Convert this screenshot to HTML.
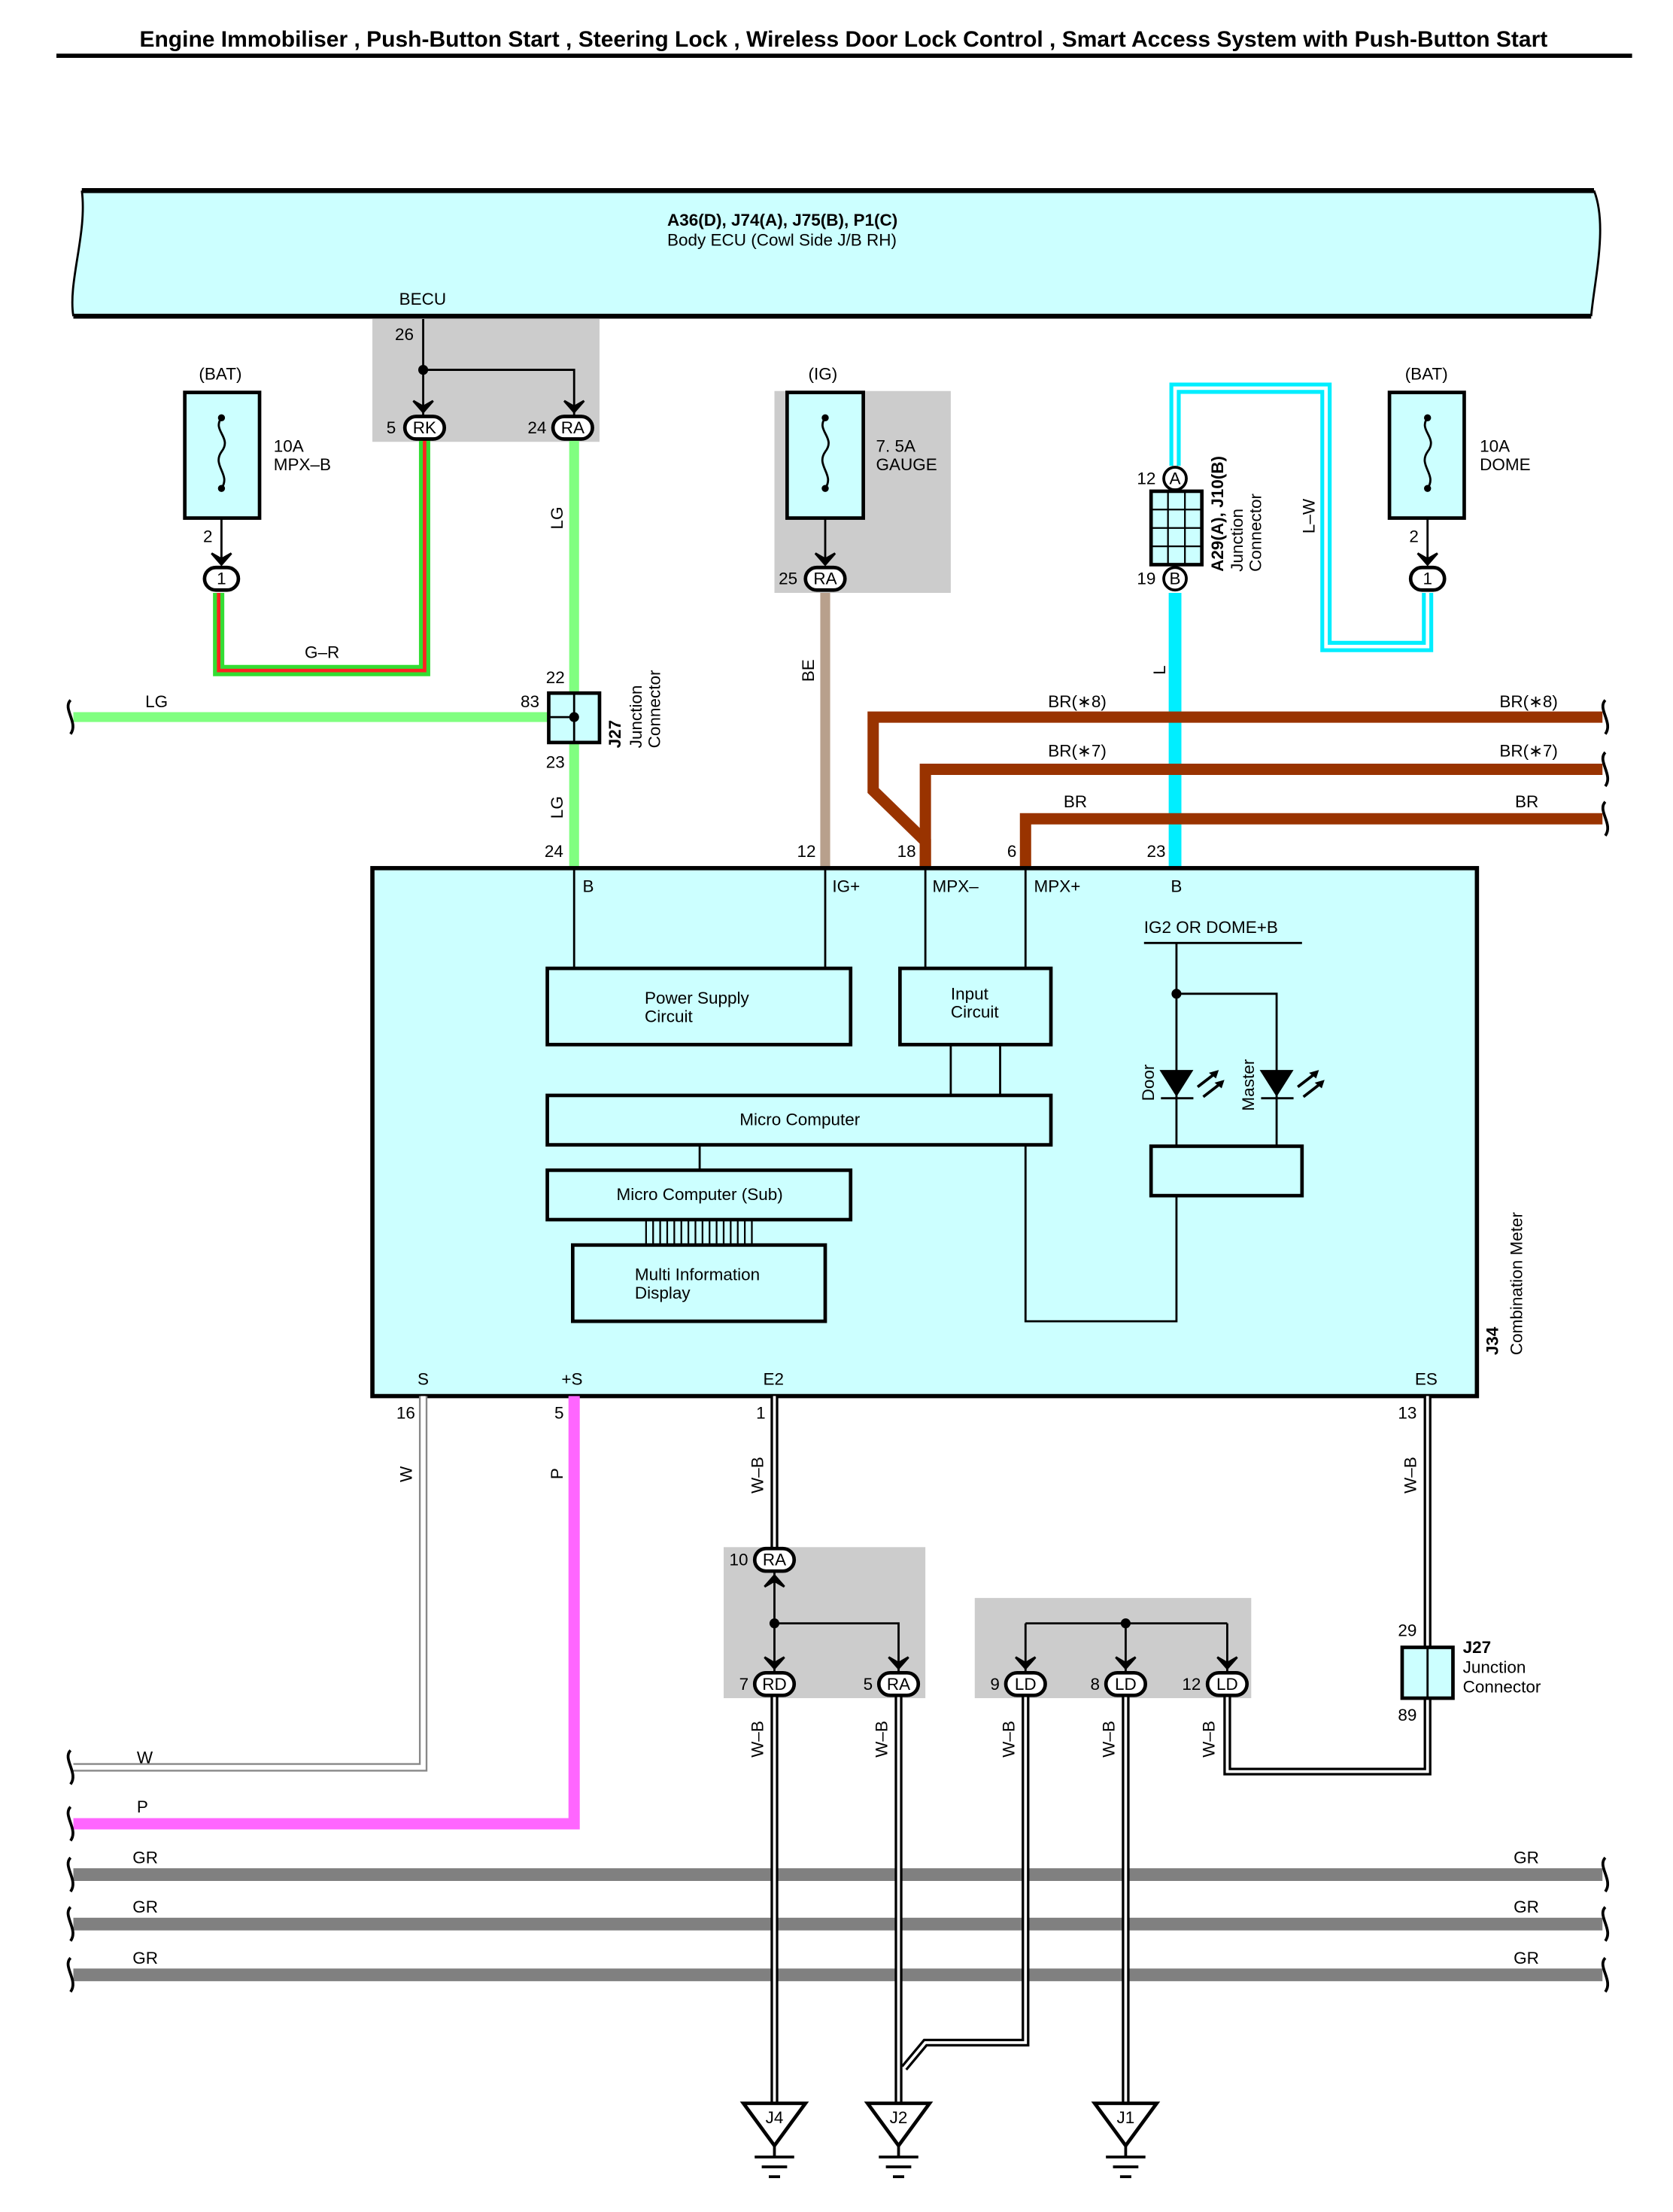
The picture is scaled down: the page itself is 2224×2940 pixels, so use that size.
<!DOCTYPE html>
<html><head><meta charset="utf-8"><style>
html,body{margin:0;padding:0;background:#fff}
svg{display:block}
text{font-family:"Liberation Sans",sans-serif;font-size:12px;fill:#000}
.b{font-weight:bold}
</style></head><body>
<svg width="2224" height="2940" viewBox="0 0 1186 1567" preserveAspectRatio="none" xmlns="http://www.w3.org/2000/svg">
<defs>
<g id="arw"><path d="M-7,-8 L0,0 L7,-8 L0,-4 Z" fill="#000" stroke="#000" stroke-width="1.5"/></g>
<g id="sq"><path d="M0,-12 C-6,-6 6,4 0,12" fill="none" stroke="#000" stroke-width="2"/></g>
</defs>
<text x="598" y="33" text-anchor="middle" class="b" style="font-size:16px">Engine Immobiliser , Push-Button Start , Steering Lock , Wireless Door Lock Control , Smart Access System with Push-Button Start</text>
<rect x="40" y="38" width="1117" height="3" fill="#000"/>

<path d="M58,135 L1130,135 C1140,160 1130,200 1128,224 L52,224 C48,200 62,165 58,135 Z" fill="#ccffff" stroke="none"/>
<line x1="58" y1="135" x2="1130" y2="135" stroke="#000" stroke-width="3.5"/>
<line x1="52" y1="224" x2="1128" y2="224" stroke="#000" stroke-width="3.5"/>
<path d="M58,135 C62,165 48,200 52,224" fill="none" stroke="#000" stroke-width="1.5"/>
<path d="M1130,135 C1140,160 1130,200 1128,224" fill="none" stroke="#000" stroke-width="1.5"/>
<text x="473" y="160" class="b">A36(D), J74(A), J75(B), P1(C)</text>
<text x="473" y="174">Body ECU (Cowl Side J/B RH)</text>
<text x="283" y="216">BECU</text>

<rect x="264" y="226" width="161" height="87" fill="#cccccc"/>
<rect x="549" y="277" width="125" height="143" fill="#cccccc"/>
<rect x="513" y="1096" width="143" height="107" fill="#cccccc"/>
<rect x="691" y="1132" width="196" height="71" fill="#cccccc"/>

<path d="M301,312 L301,475 L155,475 L155,420" fill="none" stroke="#33dd33" stroke-width="8"/>
<path d="M301,312 L301,475 L155,475 L155,420" fill="none" stroke="#ff2222" stroke-width="2.5"/>
<text x="216" y="466">G–R</text>
<line x1="407" y1="312" x2="407" y2="491" stroke="#80ff80" stroke-width="7"/>
<line x1="407" y1="526" x2="407" y2="615" stroke="#80ff80" stroke-width="7"/>
<line x1="52" y1="508" x2="389" y2="508" stroke="#80ff80" stroke-width="7"/>
<text x="103" y="501">LG</text>
<text transform="translate(399,375) rotate(-90)">LG</text>
<text transform="translate(399,580) rotate(-90)">LG</text>
<line x1="585" y1="420" x2="585" y2="615" stroke="#b8a08c" stroke-width="7"/>
<text transform="translate(577,483) rotate(-90)">BE</text>
<path d="M833,330 L833,275 L940,275 L940,458 L1012,458 L1012,420" fill="none" stroke="#00eeff" stroke-width="8"/>
<path d="M833,330 L833,275 L940,275 L940,458 L1012,458 L1012,420" fill="none" stroke="#fff" stroke-width="2.5"/>
<text transform="translate(932,378) rotate(-90)">L–W</text>
<line x1="833" y1="420" x2="833" y2="615" stroke="#00eeff" stroke-width="9"/>
<text transform="translate(826,478) rotate(-90)">L</text>
<g fill="none" stroke="#993300" stroke-width="8">
<path d="M1136,508 L619,508 L619,560 L656,596 L656,615"/>
<path d="M1136,545 L656,545 L656,615"/>
<path d="M1136,580 L727,580 L727,615"/>
</g>
<text x="743" y="501">BR(∗8)</text><text x="1063" y="501">BR(∗8)</text>
<text x="743" y="536">BR(∗7)</text><text x="1063" y="536">BR(∗7)</text>
<text x="754" y="572">BR</text><text x="1074" y="572">BR</text>

<line x1="300" y1="226" x2="300" y2="296" stroke="#000" stroke-width="1.5"/>
<path d="M300,262 L407,262 L407,296" fill="none" stroke="#000" stroke-width="1.5"/>
<circle cx="300" cy="262" r="3.5"/>
<use href="#arw" x="300" y="292"/><use href="#arw" x="407" y="292"/>
<text x="280" y="241">26</text>
<rect x="287" y="295" width="28" height="16" rx="8" fill="#fff" stroke="#000" stroke-width="2.5"/><text x="301" y="307" text-anchor="middle">RK</text>
<rect x="392" y="295" width="28" height="16" rx="8" fill="#fff" stroke="#000" stroke-width="2.5"/><text x="406" y="307" text-anchor="middle">RA</text>
<text x="274" y="307">5</text><text x="374" y="307">24</text>

<g stroke="#000" stroke-width="2.5" fill="#ccffff">
<rect x="131" y="278" width="53" height="89"/>
<rect x="558" y="278" width="54" height="89"/>
<rect x="985" y="278" width="53" height="89"/>
</g>
<g fill="none" stroke="#000" stroke-width="1.5">
<path d="M157,296 C150,305 165,310 157,320 C150,330 164,336 157,346"/>
<path d="M585,296 C578,305 593,310 585,320 C578,330 592,336 585,346"/>
<path d="M1012,296 C1005,305 1020,310 1012,320 C1005,330 1019,336 1012,346"/>
<line x1="157" y1="367" x2="157" y2="396"/><line x1="585" y1="367" x2="585" y2="396"/><line x1="1012" y1="367" x2="1012" y2="396"/>
</g>
<circle cx="157" cy="296" r="2.5"/><circle cx="157" cy="346" r="2.5"/>
<circle cx="585" cy="296" r="2.5"/><circle cx="585" cy="346" r="2.5"/>
<circle cx="1012" cy="296" r="2.5"/><circle cx="1012" cy="346" r="2.5"/>
<use href="#arw" x="157" y="400"/><use href="#arw" x="585" y="400"/><use href="#arw" x="1012" y="400"/>
<text x="141" y="269">(BAT)</text><text x="194" y="320">10A</text><text x="194" y="333">MPX–B</text>
<text x="573" y="269">(IG)</text><text x="621" y="320">7. 5A</text><text x="621" y="333">GAUGE</text>
<text x="996" y="269">(BAT)</text><text x="1049" y="320">10A</text><text x="1049" y="333">DOME</text>
<text x="144" y="384">2</text><text x="999" y="384">2</text>
<rect x="145" y="402" width="24" height="16" rx="8" fill="#fff" stroke="#000" stroke-width="2.5"/><text x="157" y="414" text-anchor="middle">1</text>
<rect x="1000" y="402" width="24" height="16" rx="8" fill="#fff" stroke="#000" stroke-width="2.5"/><text x="1012" y="414" text-anchor="middle">1</text>
<rect x="571" y="402" width="28" height="16" rx="8" fill="#fff" stroke="#000" stroke-width="2.5"/><text x="585" y="414" text-anchor="middle">RA</text>
<text x="552" y="414">25</text>

<rect x="389" y="491" width="36" height="35" fill="#ccffff" stroke="#000" stroke-width="2.5"/>
<line x1="407" y1="491" x2="407" y2="526" stroke="#000" stroke-width="1.5"/>
<line x1="389" y1="508" x2="407" y2="508" stroke="#000" stroke-width="1.5"/>
<circle cx="407" cy="508" r="3.5"/>
<text x="387" y="484">22</text><text x="369" y="501">83</text><text x="387" y="544">23</text>
<text transform="translate(440,530) rotate(-90)" class="b">J27</text>
<text transform="translate(455,530) rotate(-90)">Junction</text>
<text transform="translate(468,530) rotate(-90)">Connector</text>

<rect x="816" y="348" width="36" height="52" fill="#ccffff" stroke="#000" stroke-width="2.5"/>
<g stroke="#000" stroke-width="1.2"><line x1="828" y1="348" x2="828" y2="400"/><line x1="840" y1="348" x2="840" y2="400"/>
<line x1="816" y1="361" x2="852" y2="361"/><line x1="816" y1="374" x2="852" y2="374"/><line x1="816" y1="387" x2="852" y2="387"/></g>
<circle cx="833" cy="339" r="8" fill="#fff" stroke="#000" stroke-width="2"/><text x="833" y="343" text-anchor="middle">A</text>
<circle cx="833" cy="410" r="8" fill="#fff" stroke="#000" stroke-width="2"/><text x="833" y="414" text-anchor="middle">B</text>
<text x="806" y="343">12</text><text x="806" y="414">19</text>
<text transform="translate(867,405) rotate(-90)" class="b">A29(A), J10(B)</text>
<text transform="translate(881,405) rotate(-90)">Junction</text>
<text transform="translate(894,405) rotate(-90)">Connector</text>

<rect x="264" y="615" width="783" height="374" fill="#ccffff" stroke="#000" stroke-width="3"/>
<text x="386" y="607">24</text><text x="565" y="607">12</text><text x="636" y="607">18</text><text x="714" y="607">6</text><text x="813" y="607">23</text>
<text x="413" y="632">B</text><text x="590" y="632">IG+</text><text x="661" y="632">MPX–</text><text x="733" y="632">MPX+</text><text x="830" y="632">B</text>
<g fill="none" stroke="#000" stroke-width="1.5">
<line x1="407" y1="615" x2="407" y2="686"/><line x1="585" y1="615" x2="585" y2="686"/>
<line x1="656" y1="615" x2="656" y2="686"/><line x1="727" y1="615" x2="727" y2="686"/>
<line x1="674" y1="740" x2="674" y2="776"/><line x1="709" y1="740" x2="709" y2="776"/>
<line x1="496" y1="811" x2="496" y2="829"/>
<path d="M727,811 L727,936 L834,936 L834,847"/>
<line x1="811" y1="668" x2="923" y2="668"/>
<line x1="834" y1="668" x2="834" y2="812"/>
<path d="M834,704 L905,704 L905,812"/>
<line x1="823" y1="778" x2="846" y2="778"/><line x1="894" y1="778" x2="917" y2="778"/>
</g>
<g stroke="#000" stroke-width="1.2"><line x1="458" y1="864" x2="458" y2="882"/><line x1="463" y1="864" x2="463" y2="882"/><line x1="468" y1="864" x2="468" y2="882"/><line x1="473" y1="864" x2="473" y2="882"/><line x1="478" y1="864" x2="478" y2="882"/><line x1="483" y1="864" x2="483" y2="882"/><line x1="488" y1="864" x2="488" y2="882"/><line x1="493" y1="864" x2="493" y2="882"/><line x1="498" y1="864" x2="498" y2="882"/><line x1="503" y1="864" x2="503" y2="882"/><line x1="508" y1="864" x2="508" y2="882"/><line x1="513" y1="864" x2="513" y2="882"/><line x1="518" y1="864" x2="518" y2="882"/><line x1="523" y1="864" x2="523" y2="882"/><line x1="528" y1="864" x2="528" y2="882"/><line x1="533" y1="864" x2="533" y2="882"/><line x1="456" y1="864" x2="536" y2="864"/><line x1="456" y1="882" x2="536" y2="882"/></g>
<circle cx="834" cy="704" r="3.5"/>
<path d="M822,758 L846,758 L834,777 Z"/><path d="M893,758 L917,758 L905,777 Z"/>
<g stroke="#000" stroke-width="2"><line x1="849" y1="770" x2="862" y2="760"/><line x1="853" y1="777" x2="866" y2="767"/><line x1="920" y1="770" x2="933" y2="760"/><line x1="924" y1="777" x2="937" y2="767"/></g>
<path d="M864,758 L857,760 L862,764Z M868,765 L861,767 L866,771Z M935,758 L928,760 L933,764Z M939,765 L932,767 L937,771Z"/>
<text transform="translate(818,780) rotate(-90)">Door</text>
<text transform="translate(889,787) rotate(-90)">Master</text>
<text x="811" y="661">IG2 OR DOME+B</text>
<g fill="#ccffff" stroke="#000" stroke-width="2.5">
<rect x="388" y="686" width="215" height="54"/>
<rect x="638" y="686" width="107" height="54"/>
<rect x="388" y="776" width="357" height="35"/>
<rect x="388" y="829" width="215" height="35"/>
<rect x="406" y="882" width="179" height="54"/>
<rect x="816" y="812" width="107" height="35"/>
</g>
<text x="457" y="711">Power Supply</text><text x="457" y="724">Circuit</text>
<text x="674" y="708">Input</text><text x="674" y="721">Circuit</text>
<text x="567" y="797" text-anchor="middle">Micro Computer</text>
<text x="496" y="850" text-anchor="middle">Micro Computer (Sub)</text>
<text x="450" y="907">Multi Information</text><text x="450" y="920">Display</text>
<text x="296" y="981">S</text><text x="398" y="981">+S</text><text x="541" y="981">E2</text><text x="1003" y="981">ES</text>
<text transform="translate(1062,960) rotate(-90)" class="b">J34</text>
<text transform="translate(1079,960) rotate(-90)">Combination Meter</text>

<text x="281" y="1005">16</text><text x="393" y="1005">5</text><text x="536" y="1005">1</text><text x="991" y="1005">13</text>
<path d="M300,989 L300,1252 L52,1252" fill="none" stroke="#888" stroke-width="6"/>
<path d="M300,989 L300,1252 L52,1252" fill="none" stroke="#fff" stroke-width="3.5"/>
<text transform="translate(292,1050) rotate(-90)">W</text><text x="97" y="1249">W</text>
<path d="M407,989 L407,1292 L52,1292" fill="none" stroke="#ff66ff" stroke-width="8"/>
<text transform="translate(399,1048) rotate(-90)">P</text><text x="97" y="1284">P</text>
<g fill="none" stroke="#808080" stroke-width="9">
<line x1="52" y1="1328" x2="1136" y2="1328"/><line x1="52" y1="1363" x2="1136" y2="1363"/><line x1="52" y1="1399" x2="1136" y2="1399"/>
</g>
<text x="94" y="1320">GR</text><text x="1073" y="1320">GR</text>
<text x="94" y="1355">GR</text><text x="1073" y="1355">GR</text>
<text x="94" y="1391">GR</text><text x="1073" y="1391">GR</text>
<g fill="none" stroke="#000" stroke-width="5.5">
<path d="M549,989 L549,1097"/>
<path d="M549,1202 L549,1492"/><path d="M637,1202 L637,1492"/>
<path d="M727,1202 L727,1447 L656,1447 L641,1465"/><path d="M798,1202 L798,1492"/>
<path d="M1012,989 L1012,1167"/><path d="M1012,1203 L1012,1255 L870,1255 L870,1202"/>
</g>
<g fill="none" stroke="#fff" stroke-width="2">
<path d="M549,989 L549,1097"/>
<path d="M549,1202 L549,1492"/><path d="M637,1202 L637,1492"/>
<path d="M727,1202 L727,1447 L656,1447 L641,1465"/><path d="M798,1202 L798,1492"/>
<path d="M1012,989 L1012,1167"/><path d="M1012,1203 L1012,1255 L870,1255 L870,1202"/>
</g>
<text transform="translate(541,1058) rotate(-90)">W–B</text>
<text transform="translate(1004,1058) rotate(-90)">W–B</text>
<text transform="translate(541,1245) rotate(-90)">W–B</text>
<text transform="translate(629,1245) rotate(-90)">W–B</text>
<text transform="translate(719,1245) rotate(-90)">W–B</text>
<text transform="translate(790,1245) rotate(-90)">W–B</text>
<text transform="translate(861,1245) rotate(-90)">W–B</text>
<g fill="none" stroke="#000" stroke-width="1.5">
<path d="M549,1113 L549,1184"/><path d="M549,1150 L637,1150 L637,1184"/>
<path d="M727,1150 L870,1150"/><path d="M727,1150 L727,1184"/><path d="M798,1150 L798,1184"/><path d="M870,1150 L870,1184"/>
</g>
<circle cx="549" cy="1150" r="3.5"/><circle cx="798" cy="1150" r="3.5"/>
<g transform="translate(549,1116) rotate(180)"><use href="#arw"/></g>
<use href="#arw" x="549" y="1182"/><use href="#arw" x="637" y="1182"/>
<use href="#arw" x="727" y="1182"/><use href="#arw" x="798" y="1182"/><use href="#arw" x="870" y="1182"/>
<g fill="#fff" stroke="#000" stroke-width="2.5">
<rect x="535" y="1097" width="28" height="16" rx="8"/>
<rect x="535" y="1185" width="28" height="16" rx="8"/><rect x="623" y="1185" width="28" height="16" rx="8"/>
<rect x="713" y="1185" width="28" height="16" rx="8"/><rect x="784" y="1185" width="28" height="16" rx="8"/><rect x="856" y="1185" width="28" height="16" rx="8"/>
</g>
<text x="549" y="1109" text-anchor="middle">RA</text>
<text x="549" y="1197" text-anchor="middle">RD</text><text x="637" y="1197" text-anchor="middle">RA</text>
<text x="727" y="1197" text-anchor="middle">LD</text><text x="798" y="1197" text-anchor="middle">LD</text><text x="870" y="1197" text-anchor="middle">LD</text>
<text x="517" y="1109">10</text><text x="524" y="1197">7</text><text x="612" y="1197">5</text>
<text x="702" y="1197">9</text><text x="773" y="1197">8</text><text x="838" y="1197">12</text>
<rect x="994" y="1167" width="36" height="36" fill="#ccffff" stroke="#000" stroke-width="2.5"/>
<line x1="1012" y1="1167" x2="1012" y2="1203" stroke="#000" stroke-width="1.5"/>
<text x="991" y="1159">29</text><text x="991" y="1219">89</text>
<text x="1037" y="1171" class="b">J27</text><text x="1037" y="1185">Junction</text><text x="1037" y="1199">Connector</text>
<g fill="#fff" stroke="#000" stroke-width="2.5">
<path d="M527,1490 L571,1490 L549,1520 Z"/><path d="M615,1490 L659,1490 L637,1520 Z"/><path d="M776,1490 L820,1490 L798,1520 Z"/>
</g>
<g stroke="#000" stroke-width="2">
<line x1="549" y1="1520" x2="549" y2="1528"/><line x1="535" y1="1528" x2="563" y2="1528"/><line x1="540" y1="1535" x2="558" y2="1535"/><line x1="545" y1="1542" x2="553" y2="1542"/>
<line x1="637" y1="1520" x2="637" y2="1528"/><line x1="623" y1="1528" x2="651" y2="1528"/><line x1="628" y1="1535" x2="646" y2="1535"/><line x1="633" y1="1542" x2="641" y2="1542"/>
<line x1="798" y1="1520" x2="798" y2="1528"/><line x1="784" y1="1528" x2="812" y2="1528"/><line x1="789" y1="1535" x2="807" y2="1535"/><line x1="794" y1="1542" x2="802" y2="1542"/>
</g>
<text x="549" y="1504" text-anchor="middle">J4</text><text x="637" y="1504" text-anchor="middle">J2</text><text x="798" y="1504" text-anchor="middle">J1</text>
<use href="#sq" x="50" y="508"/><use href="#sq" x="50" y="1252"/><use href="#sq" x="50" y="1292"/>
<use href="#sq" x="50" y="1328"/><use href="#sq" x="50" y="1363"/><use href="#sq" x="50" y="1399"/>
<use href="#sq" x="1138" y="508"/><use href="#sq" x="1138" y="545"/><use href="#sq" x="1138" y="580"/>
<use href="#sq" x="1138" y="1328"/><use href="#sq" x="1138" y="1363"/><use href="#sq" x="1138" y="1399"/>
</svg>
</body></html>
